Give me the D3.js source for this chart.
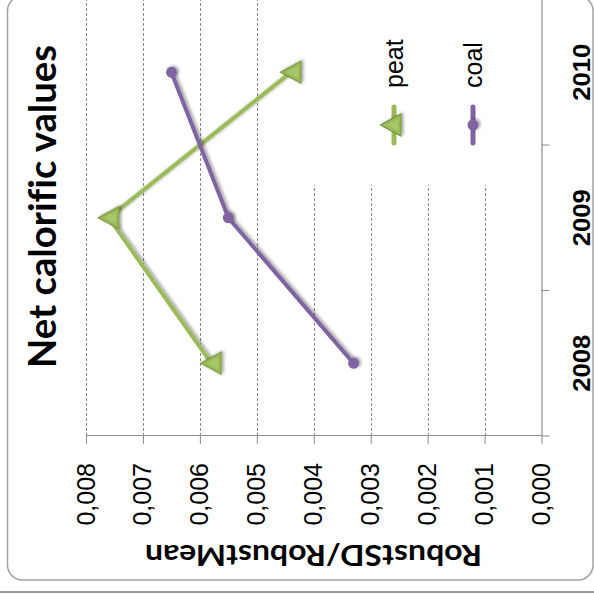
<!DOCTYPE html>
<html>
<head>
<meta charset="utf-8">
<script src="https://cdn.jsdelivr.net/npm/d3@7"></script>
<style>
  html, body { margin: 0; padding: 0; background: #fff; }
  svg { display: block; }
  text { font-variant-ligatures: none; }
</style>
</head>
<body>
<svg id="chart" width="594" height="595"></svg>
<script>
// Chart data
const categories = ["2008", "2009", "2010"];
const seriesNames = ["peat", "coal"];
const peatValues = [0.0058, 0.0076, 0.0044];
const coalValues = [0.0033, 0.0055, 0.0065];
const valueTicks = [0, 0.001, 0.002, 0.003, 0.004, 0.005, 0.006, 0.007, 0.008];
const titleText = "Net calorific values";
const axisTitleText = "RobustSD/RobustMean";

const green = "#9BBB59", purple = "#8064A2";
const gridGray = "#8a8a8a", axisGray = "#8c8c8c";

const svg = d3.select("#chart");
const defs = svg.append("defs");
const shadow = defs.append("filter").attr("id", "soft").attr("x", "-30%").attr("y", "-30%").attr("width", "160%").attr("height", "160%");
shadow.append("feDropShadow").attr("dx", 1).attr("dy", 2).attr("stdDeviation", 1.6)
  .attr("flood-color", "#000").attr("flood-opacity", 0.35);

// The whole chart is laid out landscape and turned a quarter turn counter-clockwise
const W = 595, H = 594;
const root = svg.append("g").attr("transform", `translate(0,595) rotate(-90)`);

// outer edge and rounded chart frame
root.append("line").attr("x1", 3).attr("x2", 3).attr("y1", -5).attr("y2", H + 5)
  .attr("stroke", "#9a9a9a").attr("stroke-width", 2);
root.append("rect").attr("x", 15).attr("y", 7.5).attr("width", 584).attr("height", 585.5)
  .attr("rx", 15).attr("fill", "#fff").attr("stroke", "#a3a3a3").attr("stroke-width", 1.5);

const plot = { left: 159, right: 595.5, top: 86, bottom: 541.5 };

const x = d3.scaleBand().domain(categories).range([plot.left, plot.right]).padding(0);
const y = d3.scaleLinear().domain([0, 0.008]).range([plot.bottom, plot.top]);
const bw = x.bandwidth();

const locale = d3.formatLocale({ decimal: ",", thousands: ".", grouping: [3], currency: ["", ""] });
const fmt = locale.format(".3f");

// dashed gridlines
root.append("g").selectAll("line").data(valueTicks.filter(v => v > 0)).join("line")
  .attr("x1", plot.left).attr("x2", plot.right)
  .attr("y1", d => Math.round(y(d)) + 0.5).attr("y2", d => Math.round(y(d)) + 0.5)
  .attr("stroke", gridGray).attr("stroke-width", 1).attr("stroke-dasharray", "3,2");

// legend panel with white background
const legend = root.append("g");
legend.append("rect").attr("x", 410).attr("y", 300).attr("width", 200).attr("height", 234).attr("fill", "#fff");

// value axis
const yAxis = root.append("g").attr("transform", `translate(${plot.left},0)`)
  .call(d3.axisLeft(y).tickValues(valueTicks).tickFormat(fmt).tickSizeInner(8).tickSizeOuter(0).tickPadding(19));
yAxis.select(".domain").attr("stroke", axisGray);
yAxis.selectAll(".tick line").attr("stroke", axisGray);
yAxis.selectAll(".tick text").attr("font-family", "'Liberation Sans', Arial, sans-serif")
  .attr("font-size", 25).attr("fill", "#000");

// category axis
const xAxis = root.append("g").attr("transform", `translate(0,${plot.bottom})`)
  .call(d3.axisBottom(x).tickSizeInner(0).tickSizeOuter(0));
xAxis.select(".domain").attr("stroke", axisGray).attr("stroke-width", 1.2);
xAxis.selectAll(".tick text").attr("y", 48.5).attr("dy", 0)
  .attr("font-family", "'Liberation Sans', Arial, sans-serif").attr("font-weight", "bold")
  .attr("font-size", 24).attr("textLength", 57).attr("lengthAdjust", "spacingAndGlyphs").attr("fill", "#000");
const boundaries = categories.map(c => x(c)).concat([x(categories[categories.length - 1]) + bw]);
xAxis.append("g").selectAll("line").data(boundaries).join("line")
  .attr("x1", d => d).attr("x2", d => d).attr("y1", 0).attr("y2", 8)
  .attr("stroke", axisGray);

// series
const series = [
  { name: seriesNames[0], values: peatValues, color: green, marker: "triangle" },
  { name: seriesNames[1], values: coalValues, color: purple, marker: "circle" }
];
const line = d3.line().x(d => x(d.cat) + bw / 2).y(d => y(d.v));
const triPath = "M0,-10.5L11,10L-11,10Z";

function drawMarker(g, s, cx, cy) {
  if (s.marker === "triangle") {
    g.append("path").attr("d", triPath).attr("transform", `translate(${cx},${cy})`)
      .attr("fill", s.color).attr("stroke", "#76923c").attr("stroke-width", 1.2)
      .attr("filter", "url(#soft)");
    g.append("path").attr("d", "M0,-4L6,7L-6,7Z").attr("transform", `translate(${cx},${cy})`)
      .attr("fill", "#a8c76a").attr("stroke", "none");
  } else {
    g.append("circle").attr("cx", cx).attr("cy", cy).attr("r", 5.5)
      .attr("fill", s.color).attr("filter", "url(#soft)");
  }
}

series.forEach(s => {
  const pts = categories.map((c, i) => ({ cat: c, v: s.values[i] }));
  const g = root.append("g");
  g.append("path").datum(pts).attr("d", line).attr("fill", "none")
    .attr("stroke", s.color).attr("stroke-width", 4).attr("stroke-linejoin", "round")
    .attr("filter", "url(#soft)");
  pts.forEach(p => drawMarker(g, s, x(p.cat) + bw / 2, y(p.v)));
});

// legend entries
const legendRows = [394, 473];
series.forEach((s, i) => {
  const ly = legendRows[i];
  const g = legend.append("g");
  g.append("line").attr("x1", 452).attr("x2", 488).attr("y1", ly).attr("y2", ly)
    .attr("stroke", s.color).attr("stroke-width", 5).attr("stroke-linecap", "round");
  drawMarker(g, s, 470, ly + (s.marker === "triangle" ? -3 : 0));
  g.append("text").attr("x", 507).attr("y", ly + 9).text(s.name)
    .attr("font-family", "'Liberation Sans', Arial, sans-serif").attr("font-size", 25).attr("fill", "#000");
});

// chart title
root.append("text").attr("x", 388.5).attr("y", 56).attr("text-anchor", "middle")
  .attr("font-family", "Lato, 'Open Sans', sans-serif").attr("font-weight", "bold")
  .attr("font-size", 38).attr("textLength", 323).attr("lengthAdjust", "spacingAndGlyphs")
  .attr("fill", "#000").text(titleText);

// value axis title
root.append("text").attr("transform", `translate(50,313.5) rotate(-90)`).attr("text-anchor", "middle")
  .attr("font-family", "Lato, 'Open Sans', sans-serif").attr("font-weight", "bold")
  .attr("font-size", 29).attr("textLength", 337).attr("lengthAdjust", "spacingAndGlyphs")
  .attr("fill", "#000").text(axisTitleText);
</script>
</body>
</html>
